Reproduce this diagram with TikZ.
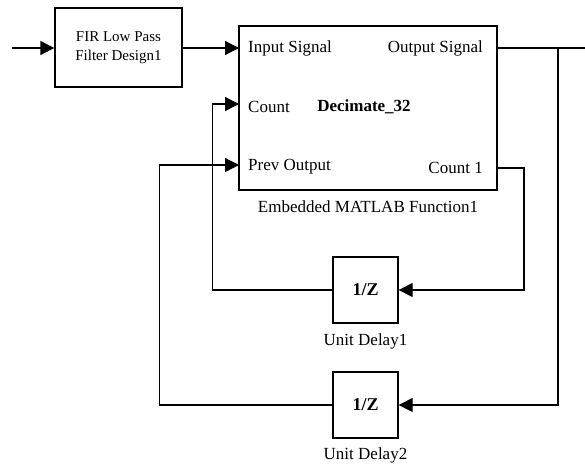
\documentclass[tikz,border=0pt]{standalone}
\usepackage{fontspec}
\setmainfont{Liberation Serif}
\usetikzlibrary{arrows.meta,positioning}
\tikzset{
  block/.style={draw, line width=1.3pt, inner sep=0pt, align=center},
  sig/.style={line width=1.3pt},
  sigarrow/.style={sig, -{Triangle[length=14pt,width=14pt]}},
  portlabel/.style={inner sep=0pt},
  blocklabel/.style={inner sep=0pt}
}

\begin{document}
\begin{tikzpicture}[x=1pt, y=-1pt, font=\fontsize{17}{20}\selectfont]
\useasboundingbox (0,0) rectangle (585,466);

% blocks
\node[block, minimum width=127pt, minimum height=79pt, font=\fontsize{15}{19}\selectfont]
  (fir) at (118.5,47.5) {FIR Low Pass\\Filter Design1};
\node[block, minimum width=258pt, minimum height=164pt] (main) at (368,108) {};
\node[block, minimum width=65pt, minimum height=66pt, font=\fontsize{18}{20}\selectfont\bfseries]
  (delay1) at (365.5,290) {1/Z};
\node[block, minimum width=65pt, minimum height=66pt, font=\fontsize{18}{20}\selectfont\bfseries]
  (delay2) at (365.5,405) {1/Z};

\node[blocklabel, below=10pt of main] (mainname) {Embedded MATLAB Function1};
\node[blocklabel, below=10pt of delay1] (delay1name) {Unit Delay1};
\node[blocklabel, below=9pt of delay2] (delay2name) {Unit Delay2};

% ports of the MATLAB function
\coordinate (insig) at (239,48);
\coordinate (cnt) at (239,104);
\coordinate (prev) at (239,165);
\coordinate (outsig) at (497,48);
\coordinate (cnt1) at (497,168);

\node[portlabel, anchor=west] (insiglabel) at (248,48) {Input Signal};
\node[portlabel, anchor=west] (cntlabel) at (248,107) {Count};
\node[portlabel, anchor=west] (prevlabel) at (248,167) {Prev Output};
\node[portlabel, anchor=east] (outsiglabel) at (483,48) {Output Signal};
\node[portlabel, anchor=east] (cnt1label) at (483,168) {Count 1};
\node[portlabel, font=\fontsize{17}{20}\selectfont\bfseries] (fname) at (364,107) {Decimate\_32};

% signals
\coordinate (src) at (12,48);
\coordinate (sink) at (585,48);
\coordinate (branch) at (558,48);

\draw[sigarrow] (src) -- (fir.west |- src);
\draw[sigarrow] (fir.east |- insig) -- (insig);
\draw[sig] (outsig) -- (sink);
\draw[sigarrow] (branch) |- (delay2.east);
\draw[sigarrow] (cnt1) -- ++(27,0) |- (delay1.east);
\draw[sigarrow] (delay1.west) -- ++(-120,0) |- (cnt);
\draw[sigarrow] (delay2.west) -- ++(-173,0) |- (prev);
\end{tikzpicture}
\end{document}
